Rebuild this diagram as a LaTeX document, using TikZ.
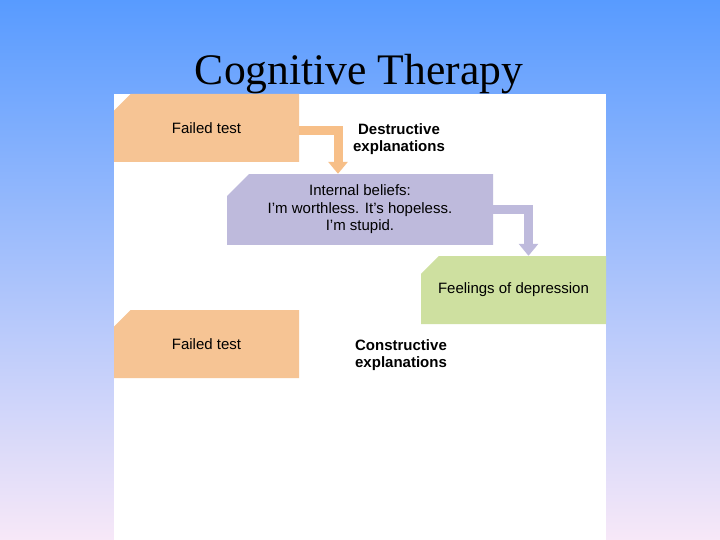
\documentclass[tikz,border=0pt]{standalone}
\usepackage{fontspec}
\setmainfont{Liberation Sans}
\newfontfamily\titlefont{Liberation Serif}
\usepackage{tikz}
\usetikzlibrary{arrows.meta,shapes.misc,positioning}

\definecolor{skytop}{RGB}{88,155,255}
\definecolor{skymid}{RGB}{168,205,245}
\definecolor{skybot}{RGB}{247,232,248}
\definecolor{peach}{RGB}{246,196,148}
\definecolor{lilac}{RGB}{190,186,220}
\definecolor{sage}{RGB}{206,224,160}

\begin{document}
\begin{tikzpicture}[
    x=1pt, y=-1pt,
    box/.style = {
      chamfered rectangle,
      chamfered rectangle corners = north west,
      chamfered rectangle xsep = 11pt,
      chamfered rectangle ysep = 11pt,
      inner sep = 0pt,
      minimum height = 68pt,
      align = center,
      font = \fontsize{15}{17.5}\selectfont
    },
    label/.style = {
      align = center,
      font = \fontsize{15}{17}\selectfont\bfseries
    },
    flow/.style = {
      line width = 9pt,
      -{Triangle[width=19pt,length=12pt]}
    }
  ]

  % slide background and white panel
  \useasboundingbox (0,0) rectangle (720,540);
  \shade[top color=skytop, middle color=skymid, bottom color=skybot] (0,0) rectangle (720,540);
  \fill[white] (114,94) rectangle (606,540);

  \node[anchor=base, font=\titlefont\fontsize{43.6}{46}\selectfont] (title) at (359,85) {Cognitive Therapy};

  % boxes
  \node[box, fill=peach, minimum width=185pt] (ft1) at (206.5,128) {Failed test};
  \node[box, fill=lilac, minimum width=266pt] (ib) at (360,209.5)
    {Internal beliefs:\\I'm worthless. It's hopeless.\\I'm stupid.};
  \node[box, fill=sage, minimum width=185pt] (dep) at (513.5,290) {Feelings of depression};
  \node[box, fill=peach, minimum width=185pt] (ft2) at (206.5,344) {Failed test};

  \node[label] (destr) at (399,139) {Destructive\\explanations};
  \node[label] (constr) at (401,355) {Constructive\\explanations};

  % connectors
  \draw[flow, color=peach!92!orange] (ft1.east |- 0,131) -| ([xshift=-22pt]ib.north);
  \draw[flow, color=lilac] (ib.east |- 0,210) -| ([xshift=15pt]dep.north);

\end{tikzpicture}
\end{document}
